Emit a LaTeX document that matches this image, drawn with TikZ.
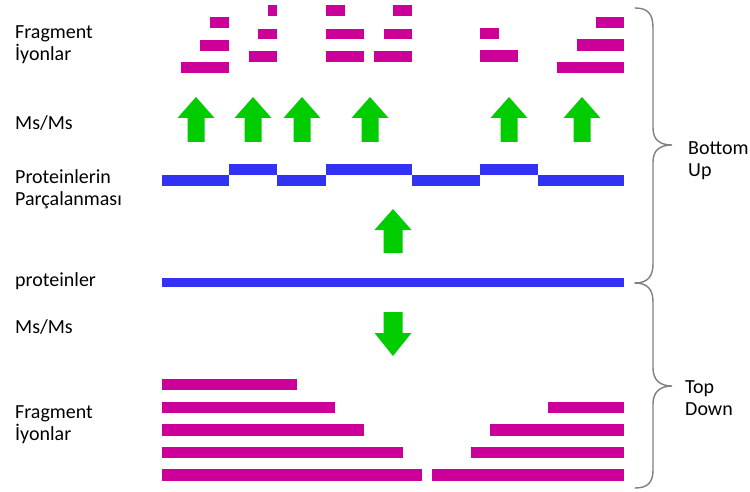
\documentclass[tikz,border=0pt]{standalone}
\usepackage{fontspec}
\setmainfont{Carlito}
\definecolor{fragc}{RGB}{204,0,153}
\definecolor{protc}{RGB}{50,50,245}
\definecolor{arrc}{RGB}{0,204,0}
\definecolor{bracec}{RGB}{128,128,128}
\newcommand\fragbar[4]{\fill[fragc] (#1,#2) rectangle (#3,#4);}
\newcommand\greenup[4]{\fill[arrc] (#1,#2) -- ({#1+18.5},{#2+21}) -- ({#1+#4},{#2+21}) -- ({#1+#4},#3) -- ({#1-#4},#3) -- ({#1-#4},{#2+21}) -- ({#1-18.5},{#2+21}) -- cycle;}
\begin{document}
\begin{tikzpicture}[x=1pt,y=-1pt,
  lbl/.style={inner sep=0pt,anchor=base west,align=left,font=\fontsize{20}{22}\selectfont}]
\useasboundingbox[fill=white] (0,0) rectangle (750,492);
% left labels (base = baseline of last line)
\node[lbl] (fragtop) at (15,61) {Fragment\\İyonlar};
\node[lbl] (msms1) at (15,130) {Ms/Ms};
\node[lbl] (parc) at (15,205) {Proteinlerin\\Parçalanması};
\node[lbl] (prot) at (15,286) {proteinler};
\node[lbl] (msms2) at (15,333) {Ms/Ms};
\node[lbl] (fragbot) at (15,440) {Fragment\\İyonlar};
% right labels
\node[lbl] (bu) at (688,177) {Bottom\\Up};
\node[lbl] (td) at (685,415) {Top\\Down};
% top fragment ions
\fragbar{210}{17}{229}{28}
\fragbar{200}{40}{229}{51}
\fragbar{181}{62}{229}{73}
\fragbar{268}{5}{277}{16}
\fragbar{258}{29}{277}{39}
\fragbar{249}{51}{277}{62}
\fragbar{326}{5}{345}{16}
\fragbar{326}{29}{364}{39}
\fragbar{326}{51}{364}{62}
\fragbar{393}{5}{412}{16}
\fragbar{384}{29}{412}{39}
\fragbar{374}{51}{412}{62}
\fragbar{480}{28}{499}{39}
\fragbar{480}{50}{518}{62}
\fragbar{596}{17}{624}{28}
\fragbar{577}{39}{624}{51}
\fragbar{557}{62}{624}{73}
% up arrows (Ms/Ms)
\greenup{196}{97}{142}{8.5}
\greenup{253}{97}{142}{8.5}
\greenup{302}{97}{142}{8.5}
\greenup{370}{97}{142}{8.5}
\greenup{509}{97}{142}{8.5}
\greenup{582}{97}{142}{8.5}
% digested protein
\fill[protc] (162,175) rectangle (229,186);
\fill[protc] (229,164) rectangle (277,175);
\fill[protc] (277,175) rectangle (326,186);
\fill[protc] (326,164) rectangle (412,175);
\fill[protc] (412,175) rectangle (480,186);
\fill[protc] (480,164) rectangle (538,175);
\fill[protc] (538,175) rectangle (624,186);
% middle up arrow
\greenup{393}{209}{253}{9.5}
% intact protein
\fill[protc] (162,278) rectangle (624,287);
% down arrow
\fill[arrc] (393,356) -- (411.5,333) -- (402.5,333) -- (402.5,312) -- (383.5,312) -- (383.5,333) -- (374.5,333) -- cycle;
% bottom fragment ions
\fragbar{162}{379}{297}{390}
\fragbar{162}{402}{335}{413}
\fragbar{548}{402}{624}{413}
\fragbar{162}{424}{364}{436}
\fragbar{490}{424}{624}{436}
\fragbar{162}{447}{403}{458}
\fragbar{471}{447}{624}{458}
\fragbar{162}{469}{422}{481}
\fragbar{432}{469}{624}{481}
% braces
\draw[bracec,line width=1.4pt,line cap=round]
  (635,8) .. controls (648,8) and (653,14) .. (653,28) -- (653,128)
  .. controls (653,140) and (660,145) .. (672,145)
  .. controls (660,145) and (653,150) .. (653,162) -- (653,264)
  .. controls (653,276) and (648,283) .. (635,283);
\draw[bracec,line width=1.4pt,line cap=round]
  (635,283) .. controls (648,283) and (653,290) .. (653,302) -- (653,368)
  .. controls (653,380) and (660,386) .. (672,386)
  .. controls (660,386) and (653,392) .. (653,404) -- (653,470)
  .. controls (653,482) and (648,488) .. (635,488);
\end{tikzpicture}
\end{document}
